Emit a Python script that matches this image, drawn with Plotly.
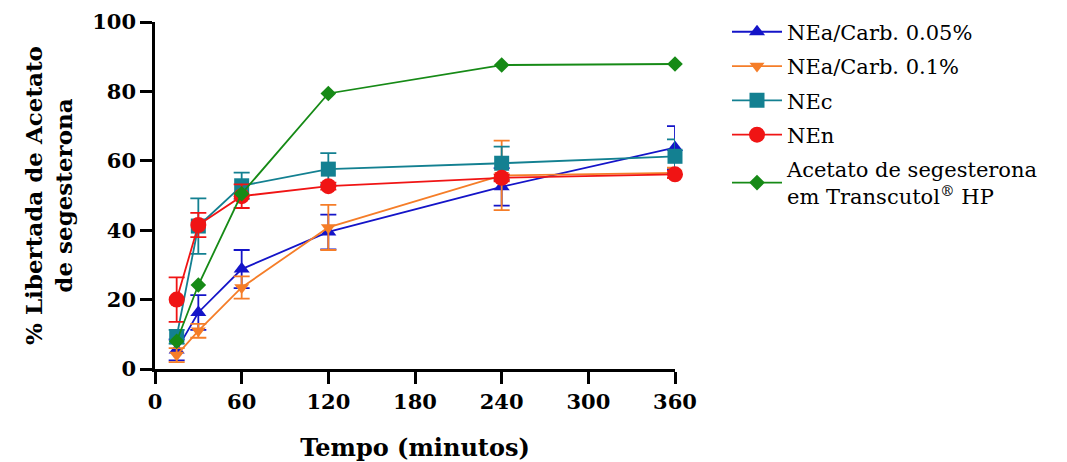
import plotly.graph_objects as go

time_min = [15, 30, 60, 120, 240, 360]

series_names = [
    "NEa/Carb. 0.05%",
    "NEa/Carb. 0.1%",
    "NEc",
    "NEn",
    "Acetato de segesterona<br>em Transcutol<sup>®</sup> HP",
]

nea_005 = [5.5, 16.3, 28.8, 39.5, 52.5, 63.8]
nea_005_err = [3.0, 5.0, 5.5, 5.0, 5.4, 6.2]

nea_01 = [4.0, 11.0, 23.5, 40.8, 55.8, 56.5]
nea_01_err = [2.0, 2.0, 3.2, 6.5, 10.0, 1.5]

nec = [9.3, 41.2, 52.8, 57.6, 59.3, 61.3]
nec_err = [2.0, 8.0, 3.8, 4.6, 4.8, 4.9]

nen = [20.0, 41.5, 49.8, 52.7, 55.1, 56.1]
nen_err = [6.4, 3.5, 3.4, 1.0, 1.0, 1.0]

transcutol = [8.0, 24.2, 50.5, 79.4, 87.6, 87.9]
transcutol_err = [0, 0, 0, 0, 0, 0]

x_ticks = [0, 60, 120, 180, 240, 300, 360]
y_ticks = [0, 20, 40, 60, 80, 100]

colors = ["#1414C8", "#F57D28", "#138091", "#F01414", "#168A16"]
symbols = ["triangle-up", "triangle-down", "square", "circle", "diamond"]
sizes = [14, 13, 15, 16, 12]
values = [nea_005, nea_01, nec, nen, transcutol]
errors = [nea_005_err, nea_01_err, nec_err, nen_err, transcutol_err]

serif = "DejaVu Serif"

fig = go.Figure()
for i in range(5):
    fig.add_trace(go.Scatter(
        x=time_min, y=values[i], name=series_names[i],
        mode="lines+markers",
        line=dict(color=colors[i], width=1.8),
        marker=dict(symbol=symbols[i], size=sizes[i], color=colors[i]),
        error_y=dict(type="data", array=errors[i], visible=any(e > 0 for e in errors[i]),
                     color=colors[i], thickness=1.8, width=8),
        cliponaxis=False,
        legendgroup=str(i),
    ))

fig.update_layout(
    width=1067, height=462,
    margin=dict(l=155, r=392, t=22, b=93),
    paper_bgcolor="white", plot_bgcolor="white",
    font=dict(family=serif, color="black"),
    legend=dict(x=1.1, y=1.03, xanchor="left", yanchor="top",
                font=dict(family=serif, size=21, color="black"),
                tracegroupgap=4, itemwidth=50, bgcolor="rgba(0,0,0,0)"),
    xaxis=dict(range=[0, 360], tickvals=x_ticks, ticktext=[str(v) for v in x_ticks],
               showline=True, linecolor="black", linewidth=2.5,
               ticks="outside", ticklen=12, tickwidth=2.5, tickcolor="black",
               showgrid=False, zeroline=False, automargin=False,
               tickfont=dict(family=serif, size=21, color="black", weight="bold"),
               title=dict(text="<b>Tempo (minutos)</b>", font=dict(family=serif, size=24), standoff=28)),
    yaxis=dict(range=[0, 100], tickvals=y_ticks, ticktext=[str(v) for v in y_ticks],
               showline=True, linecolor="black", linewidth=2.5,
               ticks="outside", ticklen=12, tickwidth=2.5, tickcolor="black",
               showgrid=False, zeroline=False, automargin=False,
               tickfont=dict(family=serif, size=21, color="black", weight="bold"),
               title=dict(text="<b>% Libertada de Acetato<br>de segesterona</b>",
                          font=dict(family=serif, size=23), standoff=14)),
)

fig.write_html("out.html")
